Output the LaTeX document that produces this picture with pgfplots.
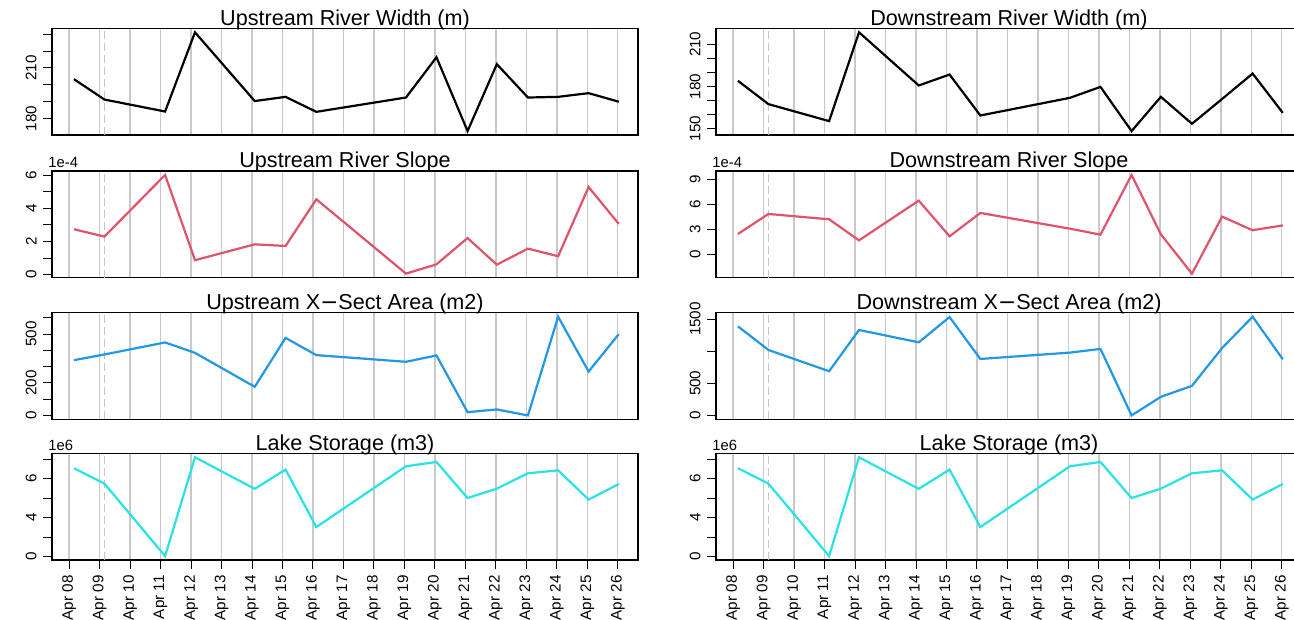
\documentclass[border=0pt]{standalone}
\usepackage{fontspec}
\setmainfont{Liberation Sans}
\usepackage{pgfplots}
\pgfplotsset{compat=1.18}
\usepackage{pgfplotstable}

\definecolor{rred}{HTML}{DF536B}
\definecolor{rblue}{HTML}{2297E6}
\definecolor{rcyan}{HTML}{28E2E5}

% x = days after Apr 08
\pgfplotstableread{
x     uw     dw     us     ds     ua    da    ls
0.16  203.3  183.9  2.74   2.47   340   1386  4.54
1.16  191.2  167.3  2.30   4.86   375   1019  3.75
3.15  184.1  155.2  6.02   4.22   449   688   0.03
4.13  231.1  218.5  0.87   1.71   385   1330  5.10
6.09  190.3  180.6  1.83   6.45   176   1138  3.48
7.10  192.8  188.4  1.73   2.19   477   1531  4.47
8.11  183.9  159.2  4.55   4.98   371   879   1.52
11.05 192.4  171.8  0.06   3.10   330   978   4.64
12.05 216.3  179.6  0.62   2.39   369   1035  4.86
13.07 172.5  148.1  2.21   9.52   20    0     3.01
14.03 212.2  172.5  0.60   2.43   37    290   3.49
15.05 192.4  153.3  1.57  -2.27   0     460   4.28
16.04 192.8  171.0  1.11   4.54   607   1050  4.43
17.04 195.0  189.1  5.29   2.91   270   1536  2.93
18.03 189.9  161.1  3.06   3.50   500   874   3.73
}\data

\pgfplotsset{
  every axis title/.style={at={(0.5,1)}, anchor=base, yshift=1.6pt, font=\fontsize{10.8}{12}\selectfont},
  rpanel/.style={
    scale only axis, width=293pt, height=53.3pt, anchor=south west,
    xmin=-0.56, xmax=18.66,
    xtick={0,...,18},
    xmajorgrids, major grid style={gray!42, line width=0.6pt},
    axis line style={line width=0.6pt},
    tick style={black, line width=0.5pt},
    tick align=outside, ytick pos=left, xtick pos=bottom,
    major tick length=4.3pt,
    clip mode=individual,
    /pgf/number format/assume math mode=true,
    yticklabel style={rotate=90, anchor=south, font=\fontsize{7.6}{8}\selectfont, inner xsep=0pt, inner ysep=3.2pt},
    every axis plot/.append style={line width=1.1pt},
  },
  upper/.style={xticklabels={}, xtick style={draw=none}},
  bottomrow/.style={
    xticklabels={Apr 08,Apr 09,Apr 10,Apr 11,Apr 12,Apr 13,Apr 14,Apr 15,Apr 16,Apr 17,Apr 18,Apr 19,Apr 20,Apr 21,Apr 22,Apr 23,Apr 24,Apr 25,Apr 26},
    xticklabel style={rotate=90, anchor=east, font=\fontsize{7.6}{8}\selectfont, inner xsep=3.2pt, inner ysep=0pt},
  },
}
\newcommand{\dashline}{\draw[gray!45, dash pattern=on 4pt off 2pt, line width=0.8pt] (axis cs:1.16,\pgfkeysvalueof{/pgfplots/ymin}) -- (axis cs:1.16,\pgfkeysvalueof{/pgfplots/ymax});}
\newcommand{\scalelabel}[1]{\node[anchor=base west, font=\fontsize{7.4}{8}\selectfont, inner sep=0pt] at ([xshift=-2pt,yshift=1.6pt]rel axis cs:0,1) {#1};}

\begin{document}
\begin{tikzpicture}
% ---------------- left column ----------------
\begin{axis}[rpanel, upper, at={(26pt,242.5pt)}, title={Upstream River Width (m)},
  ymin=170.16, ymax=233.44, ytick={180,190,...,230}, yticklabels={180,,,210,,}]
\dashline
\addplot[black] table[x=x,y=uw]{\data};
\end{axis}
\begin{axis}[rpanel, upper, at={(26pt,171.2pt)}, title={Upstream River Slope},
  ymin=-0.18, ymax=6.26, ytick={0,...,6}, yticklabels={0,,2,,4,,6}]
\dashline
\addplot[rred] table[x=x,y=us]{\data};
\scalelabel{1e-4}
\end{axis}
\begin{axis}[rpanel, upper, at={(26pt,100.3pt)}, title={Upstream X{\fontspec{DejaVu Sans}−}Sect Area (m2)},
  ymin=-24.3, ymax=631.3, ytick={0,100,...,600}, yticklabels={0,,200,,,500,}]
\dashline
\addplot[rblue] table[x=x,y=ua]{\data};
\end{axis}
\begin{axis}[rpanel, bottomrow, at={(26pt,30pt)}, title={Lake Storage (m3)},
  ymin=-0.17, ymax=5.30, ytick={0,...,5}, yticklabels={0,,4,,6,}]
\dashline
\addplot[rcyan] table[x=x,y=ls]{\data};
\scalelabel{1e6}
\end{axis}
% ---------------- right column ----------------
\begin{axis}[rpanel, upper, at={(358pt,242.5pt)}, title={Downstream River Width (m)},
  ymin=145.3, ymax=221.3, ytick={150,160,...,210}, yticklabels={150,,,180,,,210}]
\dashline
\addplot[black] table[x=x,y=dw]{\data};
\end{axis}
\begin{axis}[rpanel, upper, at={(358pt,171.2pt)}, title={Downstream River Slope},
  ymin=-2.74, ymax=9.99, ytick={0,3,6,9}]
\dashline
\addplot[rred] table[x=x,y=ds]{\data};
\scalelabel{1e-4}
\end{axis}
\begin{axis}[rpanel, upper, at={(358pt,100.3pt)}, title={Downstream X{\fontspec{DejaVu Sans}−}Sect Area (m2)},
  ymin=-61.4, ymax=1597.4, ytick={0,500,1000,1500}, yticklabels={0,500,,1500}]
\dashline
\addplot[rblue] table[x=x,y=da]{\data};
\end{axis}
\begin{axis}[rpanel, bottomrow, at={(358pt,30pt)}, title={Lake Storage (m3)},
  ymin=-0.17, ymax=5.30, ytick={0,...,5}, yticklabels={0,,4,,6,}]
\dashline
\addplot[rcyan] table[x=x,y=ls]{\data};
\scalelabel{1e6}
\end{axis}
\pgfresetboundingbox
\useasboundingbox (0,0) rectangle (647pt,310pt);
\end{tikzpicture}
\end{document}
